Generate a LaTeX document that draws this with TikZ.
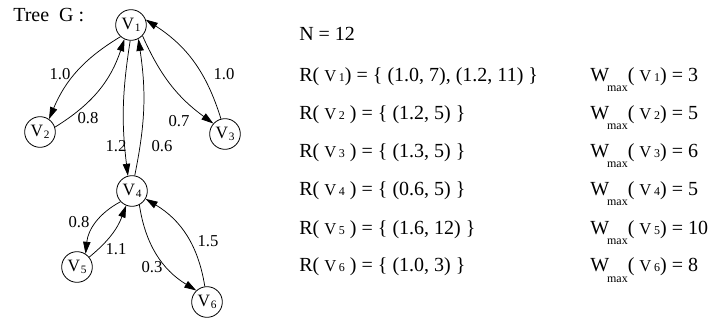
\documentclass[tikz,border=0pt]{standalone}
\usepackage{fontspec}
\setmainfont{Liberation Serif}
\usetikzlibrary{arrows.meta}
\newcommand{\nodev}[1]{{\fontsize{13}{13}\selectfont V}\hspace{0.6pt}\raisebox{-1.2pt}{\fontsize{8.5}{8.5}\selectfont #1}}
\newcommand{\textv}[1]{{\fontsize{12.5}{12.5}\selectfont V}\hspace{2pt}{\fontsize{9}{9}\selectfont #1}}
\newcommand{\wmax}{W\kern-1.5pt\raisebox{-7.5pt}{\fontsize{9}{9}\selectfont max}}
\tikzset{
  vert/.style={circle, draw, line width=0.6pt, minimum size=23pt, inner sep=0pt},
  arc/.style={line width=0.55pt, -{Triangle[length=9pt,width=5.5pt]}},
  wlabel/.style={inner sep=0pt, font=\fontsize{12.5}{12.5}\selectfont},
  txt/.style={anchor=base west, inner sep=0pt, font=\fontsize{15}{18}\selectfont}
}
\begin{document}
\begin{tikzpicture}[x=0.75pt,y=-0.75pt]
\useasboundingbox (0,0) rectangle (713,320);
% tree
\node[txt] (title) at (13,22) {Tree\ \ G :};
\node[vert] (v1) at (131,25) {\nodev{1}};
\node[vert] (v2) at (40,132) {\nodev{2}};
\node[vert] (v3) at (225,134) {\nodev{3}};
\node[vert] (v4) at (132,191) {\nodev{4}};
\node[vert] (v5) at (77,267) {\nodev{5}};
\node[vert] (v6) at (207,302) {\nodev{6}};
% arcs
\draw[arc] (v1.228) to[bend right=18] (v2.55);
\draw[arc] (v2.18) to[bend right=20] (v1.245);
\draw[arc] (v1.317) to[bend right=15] (v3.138);
\draw[arc] (v3.105) to[bend right=20] (v1.20);
\draw[arc] (v1.267) to[bend right=8] (v4.105);
\draw[arc] (v4.80) to[bend right=10] (v1.298);
\draw[arc] (v4.223) to[bend right=28] (v5.57);
\draw[arc] (v5.39) to[bend right=15] (v4.248);
\draw[arc] (v4.298) to[bend right=25] (v6.133);
\draw[arc] (v6.98) to[bend right=25] (v4.330);
% arc labels
\node[wlabel] (l12) at (60,74) {1.0};
\node[wlabel] (l21) at (88,118) {0.8};
\node[wlabel] (l13) at (179,121) {0.7};
\node[wlabel] (l31) at (224,74) {1.0};
\node[wlabel] (l14) at (116,146) {1.2};
\node[wlabel] (l41) at (162,146) {0.6};
\node[wlabel] (l45) at (79,222) {0.8};
\node[wlabel] (l54) at (116,249) {1.1};
\node[wlabel] (l46) at (152,267) {0.3};
\node[wlabel] (l64) at (208,241) {1.5};
% text
\node[txt] (n) at (299,41) {N = 12};
\node[txt] (r1) at (299,82) {R( \textv{1}) = \{ (1.0, 7), (1.2, 11) \}};
\node[txt] (r2) at (299,120) {R( \textv{2} ) = \{ (1.2, 5) \}};
\node[txt] (r3) at (299,158) {R( \textv{3} ) = \{ (1.3, 5) \}};
\node[txt] (r4) at (299,196) {R( \textv{4} ) = \{ (0.6, 5) \}};
\node[txt] (r5) at (299,234) {R( \textv{5} ) = \{ (1.6, 12) \}};
\node[txt] (r6) at (299,272) {R( \textv{6} ) = \{ (1.0, 3) \}};
\node[txt] (w1) at (590,82) {\wmax( \textv{1}) = 3};
\node[txt] (w2) at (590,120) {\wmax( \textv{2}) = 5};
\node[txt] (w3) at (590,158) {\wmax( \textv{3}) = 6};
\node[txt] (w4) at (590,196) {\wmax( \textv{4}) = 5};
\node[txt] (w5) at (590,234) {\wmax( \textv{5}) = 10};
\node[txt] (w6) at (590,272) {\wmax( \textv{6}) = 8};
\end{tikzpicture}
\end{document}
